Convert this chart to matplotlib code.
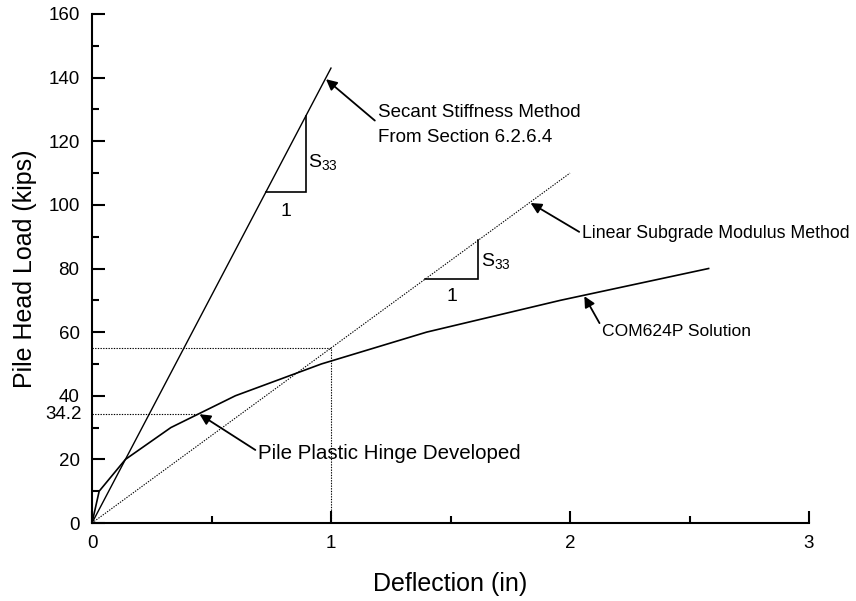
import matplotlib
matplotlib.use("Agg")
import matplotlib.pyplot as plt
from matplotlib.ticker import MultipleLocator
import matplotlib.transforms as mtransforms

plt.rcParams['font.family'] = ['Liberation Sans', 'DejaVu Sans']
plt.rcParams['mathtext.fontset'] = 'custom'
plt.rcParams['mathtext.rm'] = 'Liberation Sans'
plt.rcParams['mathtext.it'] = 'Liberation Sans'

# COM624P load-deflection solution
com_defl = [0.0, 0.03, 0.14, 0.33, 0.60, 0.96, 1.40, 1.96, 2.58]
com_load = [0.0, 10.0, 20.0, 30.0, 40.0, 50.0, 60.0, 70.0, 80.0]

# Secant stiffness line
secant_defl = [0.0, 1.0]
secant_load = [0.0, 143.0]

# Linear subgrade modulus line
linear_defl = [0.0, 2.0]
linear_load = [0.0, 110.0]

# Reference levels
hinge_load = 34.2
hinge_defl = 0.445
ref_defl = 1.0
ref_load = 55.0

# Slope triangles (x0, x1) on each straight line
secant_tri = (0.727, 0.895)
linear_tri = (1.393, 1.616)

x_ticks = [0, 1, 2, 3]
y_ticks = [0, 20, 40, 60, 80, 100, 120, 140, 160]

fig = plt.figure(figsize=(8.56, 6.01), dpi=100)
ax = fig.add_axes([92/856, 1 - 523/601, (809 - 92)/856, (523 - 14)/601])

ax.plot(secant_defl, secant_load, color='black', lw=1.0)
ax.plot(linear_defl, linear_load, color='black', lw=0.8, ls=(0, (1.2, 1.2)))
ax.plot(com_defl, com_load, color='black', lw=1.2)

# dotted guide lines
ax.plot([0, ref_defl, ref_defl], [ref_load, ref_load, 0], color='black', lw=0.8, ls=(0, (1.2, 1.2)))
ax.plot([0, hinge_defl], [hinge_load, hinge_load], color='black', lw=0.8, ls=(0, (1.2, 1.2)))

# slope triangles
def slope_triangle(x0, x1, slope):
    y0, y1 = slope * x0, slope * x1
    ax.plot([x0, x1, x1], [y0, y0, y1], color='black', lw=1.2, solid_joinstyle='miter')
    return y0, y1

sy0, sy1 = slope_triangle(*secant_tri, secant_load[1] / secant_defl[1])
ly0, ly1 = slope_triangle(*linear_tri, linear_load[1] / linear_defl[1])

sfs = 14

ax.text((secant_tri[0] + secant_tri[1]) / 2, sy0 - 6, '1', ha='center', va='center', fontsize=sfs)
ax.text(secant_tri[1] + 0.01, (sy0 + sy1) / 2 - 2.5, r'S$_{\mathrm{33}}$', ha='left', va='center', fontsize=sfs)
ax.text((linear_tri[0] + linear_tri[1]) / 2, ly0 - 5.5, '1', ha='center', va='center', fontsize=sfs)
ax.text(linear_tri[1] + 0.01, (ly0 + ly1) / 2 - 0.5, r'S$_{\mathrm{33}}$', ha='left', va='center', fontsize=sfs)

arrow = dict(arrowstyle='-|>', color='black', lw=1.3, mutation_scale=16, shrinkA=0, shrinkB=0)

ax.annotate('Secant Stiffness Method\nFrom Section 6.2.6.4', xy=(0.979, 139.5), xytext=(1.195, 125.1),
            fontsize=13.5, ha='left', va='center', linespacing=1.65,
            arrowprops=dict(arrow, relpos=(0, 0.55)))
ax.annotate('Linear Subgrade Modulus Method', xy=(1.835, 100.6), xytext=(2.05, 91.0),
            fontsize=12.75, ha='left', va='center', arrowprops=dict(arrow, relpos=(0, 0.5)))
ax.annotate('COM624P Solution', xy=(2.06, 71.3), xytext=(2.135, 60.1),
            fontsize=12.6, ha='left', va='center', arrowprops=dict(arrow, relpos=(0, 0.75)))
ax.annotate('Pile Plastic Hinge Developed', xy=(hinge_defl + 0.005, hinge_load), xytext=(0.695, 21.8),
            fontsize=14.8, ha='left', va='center', arrowprops=dict(arrow, relpos=(0, 0.6)))

ax.set_xlim(0, 3)
ax.set_ylim(0, 160)
ax.set_xticks(x_ticks)
ax.set_yticks(y_ticks)
ax.xaxis.set_minor_locator(MultipleLocator(0.5))
ax.yaxis.set_minor_locator(MultipleLocator(10))
ax.tick_params(which='major', direction='in', length=9, width=1.5, labelsize=13.5, pad=9)
ax.tick_params(which='minor', direction='in', length=5, width=1.5)
for side in ('top', 'right'):
    ax.spines[side].set_visible(False)
for side in ('left', 'bottom'):
    ax.spines[side].set_linewidth(1.5)

# extra label for the hinge load level
trans = mtransforms.blended_transform_factory(ax.transAxes, ax.transData)
ax.text(-0.0135, hinge_load, '34.2', transform=trans, ha='right', va='center', fontsize=13.5)

ax.set_xlabel('Deflection (in)', fontsize=18, labelpad=14)
ax.set_ylabel('Pile Head Load (kips)', fontsize=18, labelpad=8)

fig.savefig('out.png', dpi=100)
